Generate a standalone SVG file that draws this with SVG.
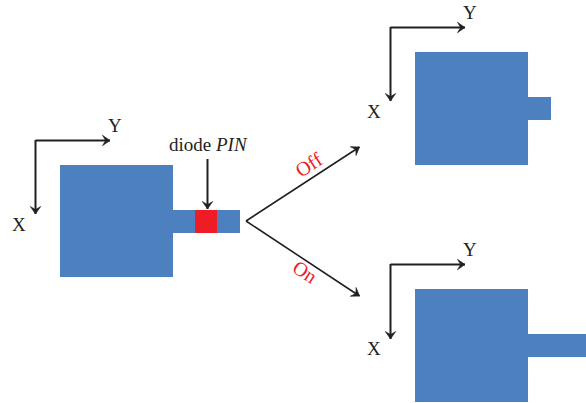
<svg xmlns="http://www.w3.org/2000/svg" width="586" height="403" viewBox="0 0 586 403">
<style>
.patch{fill:#4d80bf}
.diode{fill:#ee1c24}
.conn{fill:none;stroke:#231f20;stroke-width:2;marker-end:url(#arrow)}
.thin{stroke-width:1.6}
text{font-family:"Liberation Serif","Times New Roman",serif;font-size:19px;fill:#231f20}
.red{fill:#ee1c24;font-size:20px}
</style>
<defs>
<marker id="arrow" markerUnits="userSpaceOnUse" markerWidth="14" markerHeight="14" refX="9" refY="7" orient="auto">
<path d="M1.5 1.8L9 7L1.5 12.2L4.6 7Z" fill="#231f20" stroke="#231f20" stroke-width="0.6" stroke-linejoin="miter"/>
</marker>
</defs>
<rect width="586" height="403" fill="#fff"/>
<g id="antenna-main">
<rect class="patch" x="60" y="165" width="113" height="112"/>
<rect class="patch" x="173" y="210" width="67" height="23"/>
<rect class="diode" x="195" y="210" width="22" height="23"/>
</g>
<g id="antenna-off">
<rect class="patch" x="415" y="52" width="113" height="113"/>
<rect class="patch" x="528" y="97" width="23" height="23"/>
</g>
<g id="antenna-on">
<rect class="patch" x="415" y="289" width="113" height="113"/>
<rect class="patch" x="528" y="334" width="58" height="23"/>
</g>
<g id="connectors">
<path class="conn" d="M35.5 140.500H110"/>
<path class="conn" d="M35.500 140V214"/>
<path class="conn" d="M390.500 27.500H465"/>
<path class="conn" d="M390.500 27V101"/>
<path class="conn" d="M390.500 264.500H465"/>
<path class="conn" d="M390.500 264V339"/>
<path class="conn" d="M207.500 159V209"/>
<path class="conn thin" d="M246 221L359.500 147"/>
<path class="conn thin" d="M246 221L359.500 296"/>
</g>
<g id="labels">
<text x="108" y="132">Y</text>
<text x="12" y="231">X</text>
<text x="169" y="151">diode <tspan font-style="italic">PIN</tspan></text>
<text x="463" y="19">Y</text>
<text x="367" y="118">X</text>
<text x="463" y="256">Y</text>
<text x="367" y="355">X</text>
<text class="red" transform="translate(301 178) rotate(-33)">Off</text>
<text class="red" transform="translate(291 271) rotate(33)">On</text>
</g>
</svg>
